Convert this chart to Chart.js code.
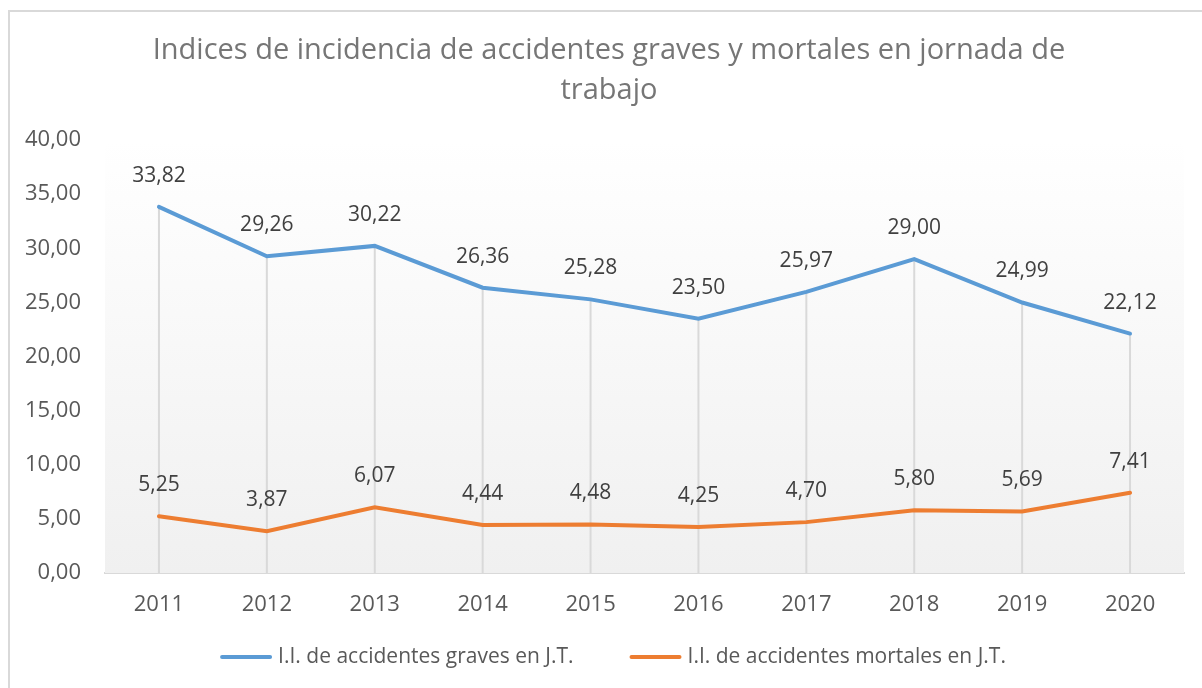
<!DOCTYPE html>
<html lang="es">
<head>
	<meta charset="UTF-8">
	<title>Indices de incidencia</title>
	<script src="https://cdn.jsdelivr.net/npm/chart.js"></script>
	<style>
		body { margin: 0; background: #fff; overflow: hidden; }
		#wrap { position: absolute; left: 0; top: 0; width: 1202px; height: 688px; }
		#frame { position: absolute; left: 8px; top: 10px; width: 1300px; height: 800px; border: 2px solid #d9d9d9; box-sizing: border-box; }
		canvas { position: absolute; left: 0; top: 0; }
	</style>
</head>
<body>
	<div id="wrap">
		<div id="frame"></div>
		<canvas id="myChart" width="1202" height="688"></canvas>
	</div>

	<script>
		// data
		const years = ['2011', '2012', '2013', '2014', '2015', '2016', '2017', '2018', '2019', '2020'];
		const graves = [33.82, 29.26, 30.22, 26.36, 25.28, 23.50, 25.97, 29.00, 24.99, 22.12];
		const mortales = [5.25, 3.87, 6.07, 4.44, 4.48, 4.25, 4.70, 5.80, 5.69, 7.41];
		const titleLines = ['Indices de incidencia de accidentes graves y mortales en jornada de', 'trabajo'];
		const seriesNames = ['I.I. de accidentes graves en J.T.', 'I.I. de accidentes mortales en J.T.'];

		const fmt = v => v.toFixed(2).replace('.', ',');

		// gradient plot background + drop lines from the top series
		const plotBack = {
			id: 'plotBack',
			beforeDatasetsDraw(chart) {
				const { ctx, chartArea: a } = chart;
				ctx.save();
				const g = ctx.createLinearGradient(0, a.top, 0, a.bottom);
				g.addColorStop(0, '#ffffff');
				g.addColorStop(1, '#f0f0f0');
				ctx.fillStyle = g;
				ctx.fillRect(a.left, a.top, a.right - a.left, a.bottom - a.top);
				// drop lines
				ctx.strokeStyle = '#d9d9d9';
				ctx.lineWidth = 2;
				chart.getDatasetMeta(0).data.forEach(p => {
					ctx.beginPath();
					ctx.moveTo(p.x, p.y);
					ctx.lineTo(p.x, a.bottom);
					ctx.stroke();
				});
				ctx.restore();
			}
		};

		// value labels above points
		const valueLabels = {
			id: 'valueLabels',
			afterDatasetsDraw(chart) {
				const ctx = chart.ctx;
				ctx.save();
				ctx.font = '21px "Open Sans"';
				ctx.fillStyle = '#404040';
				ctx.textAlign = 'center';
				ctx.textBaseline = 'middle';
				chart.data.datasets.forEach((ds, i) => {
					chart.getDatasetMeta(i).data.forEach((p, j) => {
						ctx.fillText(fmt(ds.data[j]), p.x, p.y - 31);
					});
				});
				ctx.restore();
			}
		};

		// legend row drawn by hand (excel spacing: short gap after the line, wide gap between items)
		const legendRow = {
			id: 'legendRow',
			afterDraw(chart) {
				const ctx = chart.ctx;
				const lineW = 52, gap = 6, itemGap = 56, y = 657;
				ctx.save();
				ctx.font = '21px "Open Sans"';
				ctx.textBaseline = 'middle';
				ctx.textAlign = 'left';
				const items = chart.data.datasets.map(ds => ({ ds, w: ctx.measureText(ds.label).width }));
				const total = items.reduce((s, it) => s + lineW + gap + it.w, 0) + itemGap * (items.length - 1);
				let x = chart.width / 2 + 12 - total / 2;
				items.forEach(it => {
					ctx.strokeStyle = it.ds.borderColor;
					ctx.lineWidth = 4;
					ctx.lineCap = 'round';
					ctx.beginPath();
					ctx.moveTo(x + 2, y);
					ctx.lineTo(x + lineW - 2, y);
					ctx.stroke();
					ctx.fillStyle = '#595959';
					ctx.fillText(it.ds.label, x + lineW + gap, y);
					x += lineW + gap + it.w + itemGap;
				});
				ctx.restore();
			}
		};

		const ctx = document.getElementById('myChart');
		new Chart(ctx, {
			type: 'line',
			data: {
				labels: years,
				datasets: [{
					label: seriesNames[0],
					data: graves,
					borderColor: '#5b9bd5',
					backgroundColor: '#5b9bd5',
					borderWidth: 4,
					borderCapStyle: 'round',
					pointRadius: 0,
					tension: 0
				}, {
					label: seriesNames[1],
					data: mortales,
					borderColor: '#ed7d31',
					backgroundColor: '#ed7d31',
					borderWidth: 4,
					borderCapStyle: 'round',
					pointRadius: 0,
					tension: 0
				}]
			},
			options: {
				responsive: false,
				animation: false,
				layout: { padding: { left: 16, right: 0, top: 0, bottom: 55 } },
				plugins: {
					title: {
						display: true,
						text: titleLines,
						color: '#767676',
						font: { family: 'Open Sans', size: 29, lineHeight: 1.38, weight: 'normal' },
						padding: { top: 31, bottom: 29 }
					},
					legend: { display: false },
					tooltip: { enabled: false }
				},
				scales: {
					x: {
						offset: true,
						grid: { display: false, drawTicks: false },
						border: { display: true, color: '#d9d9d9', width: 2 },
						ticks: { color: '#595959', font: { family: 'Open Sans', size: 22 }, padding: 19, maxRotation: 0 },
						afterFit(scale) { scale.height = 60; }
					},
					y: {
						min: 0,
						max: 40,
						grid: { display: false, drawTicks: false },
						border: { display: false },
						ticks: {
							stepSize: 5,
							color: '#595959',
							font: { family: 'Open Sans', size: 22 },
							padding: 24,
							callback: v => fmt(v)
						},
						afterFit(scale) { scale.width = 89; }
					},
					// empty right axis, only keeps the plot edge off the frame
					yRight: {
						position: 'right',
						grid: { display: false },
						border: { display: false },
						ticks: { display: false },
						afterFit(scale) { scale.width = 18; }
					}
				}
			},
			plugins: [plotBack, valueLabels, legendRow]
		});
	</script>
</body>
</html>
